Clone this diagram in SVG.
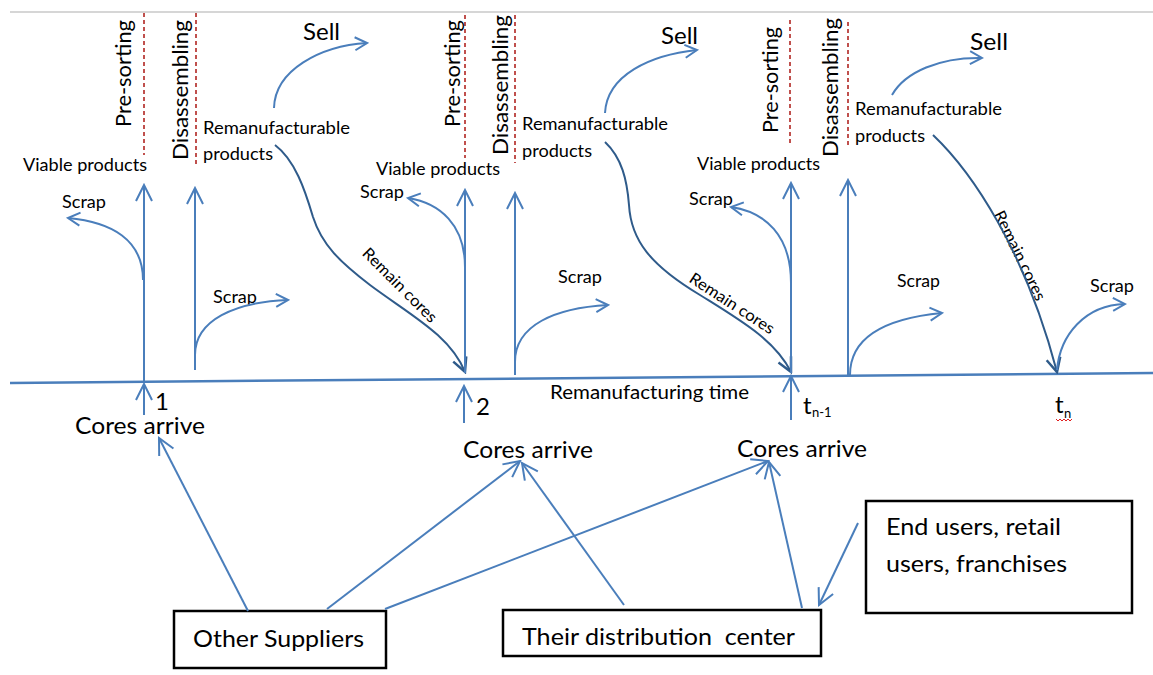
<svg xmlns="http://www.w3.org/2000/svg" width="1153" height="675" viewBox="0 0 1153 675">
<style>
text{font-family:Lato,"Liberation Sans",sans-serif;fill:#000}
.st{font-size:21.5px}
.sell{font-size:23px}
.lab{font-size:17px}
.rc{font-size:16px}
.big{font-size:24px}
.tl{font-size:18.5px}
.sub{font-size:13px}
.ln{fill:none;stroke:#4a7ebb;stroke-width:2}
.dk{fill:none;stroke:#2f5b8a;stroke-width:2}
.dash{stroke:#c0504d;stroke-width:2;stroke-dasharray:4 3}
.box{fill:#fff;stroke:#000;stroke-width:2.5}
</style>
<defs>
<marker id="a" viewBox="-18 -10 20 20" markerWidth="20" markerHeight="20" refX="0" refY="0" orient="auto" markerUnits="userSpaceOnUse">
<path d="M-16,-8 L0,0 L-16,8" fill="none" stroke="#4a7ebb" stroke-width="2"/>
</marker>
<marker id="s" viewBox="-15 -8 17 16" markerWidth="17" markerHeight="16" refX="0" refY="0" orient="auto" markerUnits="userSpaceOnUse">
<path d="M-12,-6.5 L0,0 L-12,6.5" fill="none" stroke="#4a7ebb" stroke-width="2"/>
</marker>
<marker id="d" viewBox="-16 -9 18 18" markerWidth="18" markerHeight="18" refX="0" refY="0" orient="auto" markerUnits="userSpaceOnUse">
<path d="M-14,-7 L0,0 L-14,7" fill="none" stroke="#2f5b8a" stroke-width="2.5"/>
</marker>
</defs>
<rect width="1153" height="675" fill="#fff"/>
<line x1="10" y1="12" x2="1153" y2="12" stroke="#c8c8c8" stroke-width="1.5"/>

<g id="timeline">
<line x1="10" y1="383" x2="1153" y2="373" stroke="#4a7ebb" stroke-width="2.5"/>
<text class="tl" x="550" y="399" textLength="199" lengthAdjust="spacingAndGlyphs">Remanufacturing time</text>
</g>

<g id="stage-dividers">
<line class="dash" x1="144" y1="13" x2="144" y2="155"/>
<line class="dash" x1="196" y1="13" x2="196" y2="165"/>
<line class="dash" x1="465" y1="15" x2="465" y2="158"/>
<line class="dash" x1="515" y1="15" x2="515" y2="163"/>
<line class="dash" x1="790" y1="20" x2="790" y2="145"/>
<line class="dash" x1="848" y1="22" x2="848" y2="148"/>
</g>

<g id="stage1">
<text class="st" transform="translate(131,127) rotate(-90)" textLength="107" lengthAdjust="spacingAndGlyphs">Pre-sorting</text>
<text class="st" transform="translate(188,160) rotate(-90)" textLength="140" lengthAdjust="spacingAndGlyphs">Disassembling</text>
<text class="lab" x="23" y="171" textLength="124" lengthAdjust="spacingAndGlyphs">Viable products</text>
<text class="lab" x="62" y="208" textLength="44" lengthAdjust="spacingAndGlyphs">Scrap</text>
<text class="lab" x="213" y="303" textLength="44" lengthAdjust="spacingAndGlyphs">Scrap</text>
<text class="lab" x="203" y="134" textLength="147" lengthAdjust="spacingAndGlyphs">Remanufacturable</text>
<text class="lab" x="203" y="160" textLength="70" lengthAdjust="spacingAndGlyphs">products</text>
<text class="sell" x="303" y="40" textLength="37" lengthAdjust="spacingAndGlyphs">Sell</text>
<text class="rc" text-anchor="middle" transform="translate(396,289) rotate(45)" textLength="98" lengthAdjust="spacingAndGlyphs">Remain cores</text>
</g>

<g id="stage2">
<text class="st" transform="translate(460,127) rotate(-90)" textLength="107" lengthAdjust="spacingAndGlyphs">Pre-sorting</text>
<text class="st" transform="translate(508,155) rotate(-90)" textLength="140" lengthAdjust="spacingAndGlyphs">Disassembling</text>
<text class="lab" x="376" y="175" textLength="124" lengthAdjust="spacingAndGlyphs">Viable products</text>
<text class="lab" x="360" y="198" textLength="44" lengthAdjust="spacingAndGlyphs">Scrap</text>
<text class="lab" x="558" y="283" textLength="44" lengthAdjust="spacingAndGlyphs">Scrap</text>
<text class="lab" x="522" y="130" textLength="146" lengthAdjust="spacingAndGlyphs">Remanufacturable</text>
<text class="lab" x="522" y="157" textLength="70" lengthAdjust="spacingAndGlyphs">products</text>
<text class="sell" x="661" y="44" textLength="37" lengthAdjust="spacingAndGlyphs">Sell</text>
<text class="rc" text-anchor="middle" transform="translate(729,308) rotate(33)" textLength="98" lengthAdjust="spacingAndGlyphs">Remain cores</text>
</g>

<g id="stage3">
<text class="st" transform="translate(778,133) rotate(-90)" textLength="106" lengthAdjust="spacingAndGlyphs">Pre-sorting</text>
<text class="st" transform="translate(838,157) rotate(-90)" textLength="139" lengthAdjust="spacingAndGlyphs">Disassembling</text>
<text class="lab" x="697" y="170" textLength="123" lengthAdjust="spacingAndGlyphs">Viable products</text>
<text class="lab" x="689" y="205" textLength="44" lengthAdjust="spacingAndGlyphs">Scrap</text>
<text class="lab" x="897" y="287" textLength="43" lengthAdjust="spacingAndGlyphs">Scrap</text>
<text class="lab" x="855" y="115" textLength="147" lengthAdjust="spacingAndGlyphs">Remanufacturable</text>
<text class="lab" x="855" y="142" textLength="70" lengthAdjust="spacingAndGlyphs">products</text>
<text class="sell" x="970" y="50" textLength="38" lengthAdjust="spacingAndGlyphs">Sell</text>
<text class="rc" text-anchor="middle" transform="translate(1015,258) rotate(64)" textLength="98" lengthAdjust="spacingAndGlyphs">Remain cores</text>
<text class="lab" x="1090" y="292" textLength="44" lengthAdjust="spacingAndGlyphs">Scrap</text>
</g>

<g id="time-marks">
<text class="big" x="155" y="410">1</text>
<text class="big" x="476" y="415">2</text>
<text class="big" x="803" y="414">t<tspan class="sub" x="812" y="417">n-1</tspan></text>
<text class="big" x="1055" y="413">t<tspan class="sub" x="1064" y="418">n</tspan></text>
<path d="M1056,419 l2,2 l2,-2 l2,2 l2,-2 l2,2 l2,-2 l2,2 l2,-2" fill="none" stroke="#e02020" stroke-width="1"/>
</g>

<g id="cores-arrive-1"><text class="big" x="75" y="434" textLength="130" lengthAdjust="spacingAndGlyphs">Cores arrive</text></g>
<g id="cores-arrive-2"><text class="big" x="463" y="458" textLength="130" lengthAdjust="spacingAndGlyphs">Cores arrive</text></g>
<g id="cores-arrive-3"><text class="big" x="737" y="457" textLength="130" lengthAdjust="spacingAndGlyphs">Cores arrive</text></g>

<g id="other-suppliers">
<rect class="box" x="174" y="611" width="212" height="57"/>
<text class="big" x="193" y="647" textLength="171" lengthAdjust="spacingAndGlyphs">Other Suppliers</text>
</g>
<g id="distribution-center">
<rect class="box" x="503" y="610" width="318" height="46"/>
<text class="big" x="522" y="645" textLength="273" lengthAdjust="spacingAndGlyphs" xml:space="preserve">Their distribution  center</text>
</g>
<g id="end-users">
<rect class="box" x="866" y="501" width="266" height="112"/>
<text class="big" x="886" y="535" textLength="175" lengthAdjust="spacingAndGlyphs">End users, retail</text>
<text class="big" x="886" y="572" textLength="181" lengthAdjust="spacingAndGlyphs">users, franchises</text>
</g>

<g id="connectors">
<path class="ln" d="M144,383 L144,185" marker-end="url(#a)"/>
<path class="ln" d="M143,280 C143,240 112,222 68,218" marker-end="url(#s)"/>
<path class="ln" d="M195,370 L195,188" marker-end="url(#a)"/>
<path class="ln" d="M195,355 C195,320 235,302 288,300" marker-end="url(#s)"/>
<path class="ln" d="M274,108 C275,70 320,46 367,43" marker-end="url(#s)"/>
<path class="dk" d="M275,145 C295,160 305,190 313,217 C322,245 340,262 370,285 C410,315 450,335 465,372" marker-end="url(#d)"/>
<path class="ln" d="M465,373 L465,190" marker-end="url(#a)"/>
<path class="ln" d="M465,267 C465,225 440,203 408,198" marker-end="url(#s)"/>
<path class="ln" d="M515,375 L515,193" marker-end="url(#a)"/>
<path class="ln" d="M515,362 C515,325 555,308 608,305" marker-end="url(#s)"/>
<path class="ln" d="M605,113 C607,75 650,55 697,50" marker-end="url(#s)"/>
<path class="dk" d="M605,142 C622,158 627,180 629,205 C631,240 650,265 700,295 C740,320 775,340 791,372" marker-end="url(#d)"/>
<path class="ln" d="M791,373 L791,183" marker-end="url(#a)"/>
<path class="ln" d="M791,283 C791,235 765,212 731,207" marker-end="url(#s)"/>
<path class="ln" d="M848,376 L848,180" marker-end="url(#a)"/>
<path class="ln" d="M850,375 C850,335 890,318 942,313" marker-end="url(#s)"/>
<path class="ln" d="M892,95 C905,72 940,57 982,58" marker-end="url(#s)"/>
<path class="dk" d="M933,135 C972,172 1025,250 1057,372" marker-end="url(#d)"/>
<path class="ln" d="M1057,370 C1060,335 1085,305 1125,304" marker-end="url(#s)"/>
<path class="ln" d="M144,415 L144,384" marker-end="url(#a)"/>
<path class="ln" d="M464,423 L464,386" marker-end="url(#a)"/>
<path class="ln" d="M791,420 L791,376" marker-end="url(#a)"/>
<path class="ln" d="M248,611 L159,438" marker-end="url(#a)"/>
<path class="ln" d="M327,609 L520,461" marker-end="url(#a)"/>
<path class="ln" d="M385,609 L768,461" marker-end="url(#a)"/>
<path class="ln" d="M624,605 L522,463" marker-end="url(#a)"/>
<path class="ln" d="M802,608 L769,462" marker-end="url(#a)"/>
<path class="ln" d="M858,523 L819,605" marker-end="url(#a)"/>
</g>
</svg>
